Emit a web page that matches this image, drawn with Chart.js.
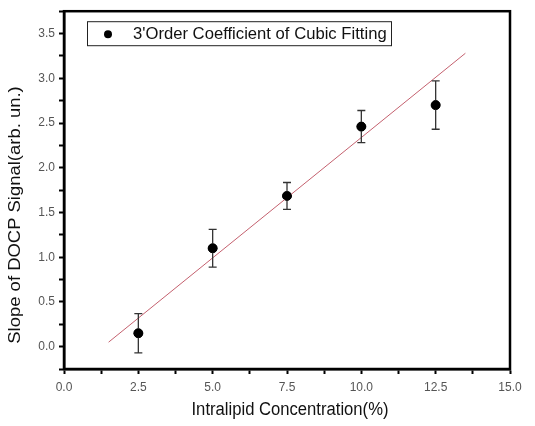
<!DOCTYPE html>
<html>
<head>
<meta charset="utf-8">
<script src="https://cdn.jsdelivr.net/npm/chart.js@4"></script>
<style>
  html, body { margin: 0; padding: 0; background: #fff; }
  #wrap { width: 535px; height: 426px; }
</style>
</head>
<body>
<div id="wrap"><canvas id="chart" width="535" height="426"></canvas></div>
<script>
// measured data
const concentration = [2.5, 5.0, 7.5, 10.0, 12.5];
const slopeValues = [0.15, 1.10, 1.685, 2.46, 2.70];
const slopeErrors = [0.22, 0.21, 0.15, 0.18, 0.27];

// linear fit, end points only
const fitX = [1.5, 13.5];
const fitY = [0.05, 3.28];

const seriesLabel = "3'Order Coefficient of Cubic Fitting";
const xTitle = "Intralipid Concentration(%)";
const yTitle = "Slope of DOCP Signal(arb. un.)";

const fontFamily = "'Liberation Sans', Arial, sans-serif";
const isMajor = (v, step) => Math.abs(v / step - Math.round(v / step)) < 1e-6;

// error bars, frame, legend and axis titles (original figure is a bit stretched)
const extras = {
  id: "extras",
  afterDatasetsDraw(chart) {
    const { ctx, scales: { x, y }, chartArea: a } = chart;
    ctx.save();
    ctx.strokeStyle = "#333";
    ctx.lineWidth = 1.3;
    concentration.forEach((c, i) => {
      const px = x.getPixelForValue(c);
      const top = y.getPixelForValue(slopeValues[i] + slopeErrors[i]);
      const bot = y.getPixelForValue(slopeValues[i] - slopeErrors[i]);
      ctx.beginPath();
      ctx.moveTo(px, top); ctx.lineTo(px, bot);
      ctx.moveTo(px - 4, top); ctx.lineTo(px + 4, top);
      ctx.moveTo(px - 4, bot); ctx.lineTo(px + 4, bot);
      ctx.stroke();
    });
    // points back on top of the bars
    ctx.fillStyle = "#000";
    concentration.forEach((c, i) => {
      ctx.beginPath();
      ctx.arc(x.getPixelForValue(c), y.getPixelForValue(slopeValues[i]), 4.5, 0, Math.PI * 2);
      ctx.fill();
    });

    // frame
    ctx.strokeStyle = "#000";
    ctx.lineWidth = 2.5;
    ctx.strokeRect(a.left, a.top, a.right - a.left, a.bottom - a.top);

    // legend box
    const lx = a.left + 23, ly = a.top + 10;
    ctx.lineWidth = 1;
    ctx.strokeStyle = "#222";
    ctx.fillStyle = "#fff";
    ctx.fillRect(lx, ly, 304, 24);
    ctx.strokeRect(lx + 0.5, ly + 0.5, 304, 24);
    ctx.fillStyle = "#000";
    ctx.beginPath();
    ctx.arc(lx + 21, ly + 13, 4, 0, Math.PI * 2);
    ctx.fill();
    ctx.font = "15px " + fontFamily;
    ctx.textBaseline = "middle";
    ctx.fillStyle = "#111";
    ctx.save();
    ctx.translate(lx + 46, ly + 13);
    ctx.scale(1.11, 1.08);
    ctx.fillText(seriesLabel, 0, 0);
    ctx.restore();

    // x title
    ctx.textAlign = "center";
    ctx.font = "16px " + fontFamily;
    ctx.save();
    ctx.translate((a.left + a.right) / 2 + 3, 410);
    ctx.scale(1.04, 1.15);
    ctx.fillText(xTitle, 0, 0);
    ctx.restore();

    // y title
    ctx.font = "15px " + fontFamily;
    ctx.save();
    ctx.translate(16, 215);
    ctx.rotate(-Math.PI / 2);
    ctx.scale(1.23, 1.05);
    ctx.fillText(yTitle, 0, 0);
    ctx.restore();
    ctx.restore();
  }
};

const tickFont = { family: fontFamily, size: 12 };

new Chart(document.getElementById("chart"), {
  type: "scatter",
  data: {
    datasets: [
      {
        type: "line",
        label: "fit",
        data: fitX.map((v, i) => ({ x: v, y: fitY[i] })),
        borderColor: "#c4606e",
        borderWidth: 1,
        pointRadius: 0,
        fill: false
      },
      {
        label: seriesLabel,
        data: concentration.map((v, i) => ({ x: v, y: slopeValues[i] })),
        backgroundColor: "#000",
        borderColor: "#000",
        pointRadius: 4.5
      }
    ]
  },
  options: {
    responsive: false,
    animation: false,
    layout: { padding: { top: 8, right: 25, left: 0, bottom: 0 } },
    plugins: { legend: { display: false }, tooltip: { enabled: false } },
    scales: {
      x: {
        type: "linear",
        min: 0, max: 15,
        afterFit(s) { s.height = 57; },
        border: { color: "#000", width: 2.5 },
        grid: { drawOnChartArea: false, tickLength: 5, tickColor: "#000", tickWidth: 2 },
        ticks: {
          stepSize: 1.25, autoSkip: false, maxRotation: 0, padding: 6,
          color: "#555", font: tickFont,
          callback: v => isMajor(v, 2.5) ? v.toFixed(1) : ""
        }
      },
      y: {
        type: "linear",
        min: -0.25, max: 3.75,
        afterFit(s) { s.width = 64; },
        border: { color: "#000", width: 2.5 },
        grid: { drawOnChartArea: false, tickLength: 5, tickColor: "#000", tickWidth: 2 },
        ticks: {
          stepSize: 0.25, autoSkip: false, padding: 4,
          color: "#555", font: tickFont,
          callback: v => isMajor(v, 0.5) ? v.toFixed(1) : ""
        }
      }
    }
  },
  plugins: [extras]
});
</script>
</body>
</html>
